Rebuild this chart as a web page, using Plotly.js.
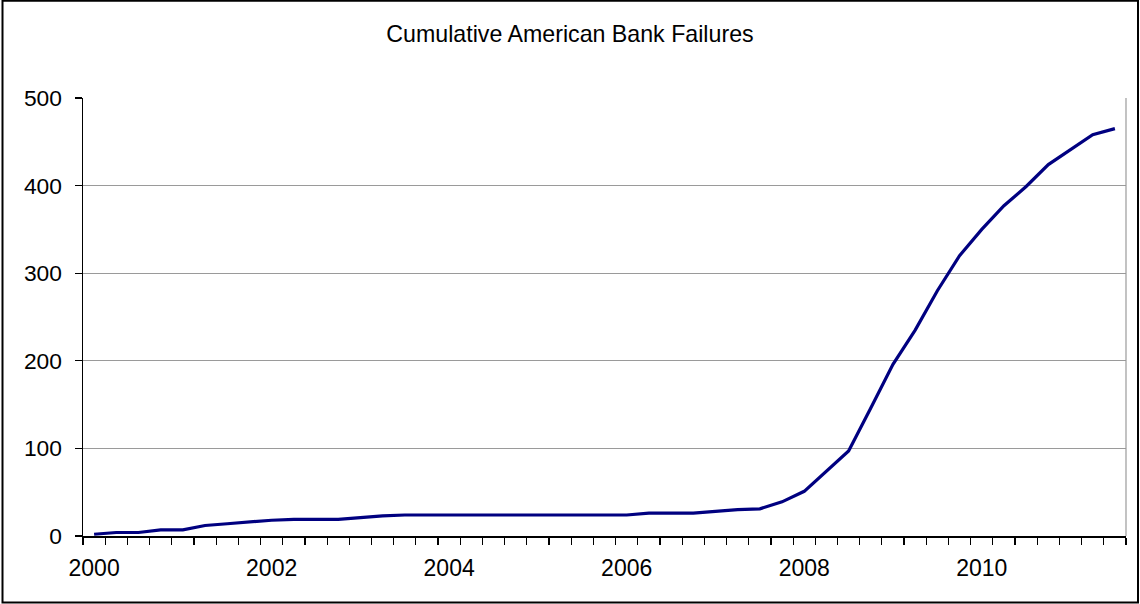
<!DOCTYPE html>
<html>
<head>
<meta charset="utf-8">
<script src="https://cdn.plot.ly/plotly-3.0.1.min.js"></script>
<style>
  html, body { margin: 0; padding: 0; background: #fff; }
  #chart { width: 1140px; height: 604px; }
</style>
</head>
<body>
<div id="chart"></div>
<script>
const quarters = [
  '2000Q1','2000Q2','2000Q3','2000Q4',
  '2001Q1','2001Q2','2001Q3','2001Q4',
  '2002Q1','2002Q2','2002Q3','2002Q4',
  '2003Q1','2003Q2','2003Q3','2003Q4',
  '2004Q1','2004Q2','2004Q3','2004Q4',
  '2005Q1','2005Q2','2005Q3','2005Q4',
  '2006Q1','2006Q2','2006Q3','2006Q4',
  '2007Q1','2007Q2','2007Q3','2007Q4',
  '2008Q1','2008Q2','2008Q3','2008Q4',
  '2009Q1','2009Q2','2009Q3','2009Q4',
  '2010Q1','2010Q2','2010Q3','2010Q4',
  '2011Q1','2011Q2','2011Q3'
];
const cumulativeFailures = [
  2, 4, 4, 7,
  7, 12, 14, 16,
  18, 19, 19, 19,
  21, 23, 24, 24,
  24, 24, 24, 24,
  24, 24, 24, 24,
  24, 26, 26, 26,
  28, 30, 31, 39,
  51, 74, 97, 146,
  196, 235, 280, 320,
  350, 377, 399, 424,
  441, 458, 465
];
const yearTickVals = [2000, 2002, 2004, 2006, 2008, 2010];
const yearTickText = ['2000', '2002', '2004', '2006', '2008', '2010'];
const yTickVals = [0, 100, 200, 300, 400, 500];
const chartTitle = 'Cumulative American Bank Failures';

// quarter string -> fractional year position (category centre)
const xPos = quarters.map(q => {
  const y = parseInt(q.slice(0, 4), 10);
  const k = parseInt(q.slice(5), 10);
  return y + (k - 1) * 0.25;
});

const FONT = 'Liberation Sans, Arial, sans-serif';

const trace = {
  x: xPos,
  y: cumulativeFailures,
  text: quarters,
  type: 'scatter',
  mode: 'lines',
  line: { color: '#000080', width: 3.2 },
  hoverinfo: 'text+y'
};

const layout = {
  width: 1140,
  height: 604,
  margin: { l: 83, r: 14, t: 98, b: 68, pad: 0 },
  paper_bgcolor: '#ffffff',
  plot_bgcolor: '#ffffff',
  showlegend: false,
  font: { family: FONT, color: '#000000', size: 22 },
  title: {
    text: chartTitle,
    font: { family: FONT, size: 23.2, color: '#000000' },
    x: 0.5, xanchor: 'center', xref: 'container',
    y: 1 - 34 / 604, yanchor: 'middle', yref: 'container'
  },
  xaxis: {
    type: 'linear',
    range: [1999.875, 2011.625],
    tickmode: 'array',
    tickvals: yearTickVals,
    ticktext: yearTickText,
    ticks: '',
    ticklabelstandoff: 11,
    tickfont: { family: FONT, size: 23, color: '#000000' },
    showgrid: false,
    zeroline: false,
    showline: true,
    linecolor: '#000000',
    linewidth: 1.5,
    minor: {
      ticks: 'outside',
      ticklen: 7,
      tickwidth: 1.2,
      tickcolor: '#000000',
      tick0: 1999.875,
      dtick: 0.25,
      showgrid: false
    },
    fixedrange: true
  },
  yaxis: {
    range: [0, 500],
    tickmode: 'array',
    tickvals: yTickVals,
    ticks: 'outside',
    ticklen: 7,
    tickwidth: 1.2,
    tickcolor: '#000000',
    ticklabelstandoff: 8,
    tickfont: { family: FONT, size: 22.8, color: '#000000' },
    showgrid: true,
    gridcolor: '#9a9a9a',
    gridwidth: 1,
    zeroline: false,
    showline: true,
    linecolor: '#000000',
    linewidth: 1.5,
    fixedrange: true
  },
  shapes: [
    { type: 'line', xref: 'paper', yref: 'paper', x0: 1, x1: 1, y0: 0, y1: 1,
      line: { color: '#9a9a9a', width: 1.2 } },
    { type: 'rect', xref: 'paper', yref: 'paper',
      x0: (2.5 - 83) / 1043, x1: (1138 - 83) / 1043,
      y0: (536 - 602.5) / 438, y1: (536 - 0.8) / 438,
      line: { color: '#000000', width: 2 }, fillcolor: 'rgba(0,0,0,0)' }
  ]
};

Plotly.newPlot('chart', [trace], layout, { displayModeBar: false, staticPlot: true });
</script>
</body>
</html>
